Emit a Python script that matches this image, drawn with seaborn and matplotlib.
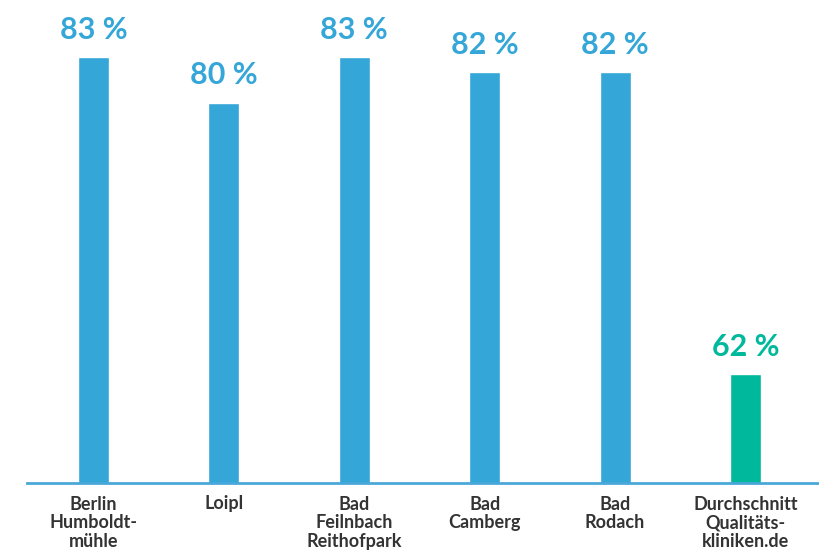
import matplotlib
matplotlib.use("Agg")
import matplotlib.pyplot as plt
import seaborn as sns
import pandas as pd

categories = ["Berlin\nHumboldt-\nmühle", "Loipl", "Bad\nFeilnbach\nReithofpark",
              "Bad\nCamberg", "Bad\nRodach", "Durchschnitt\nQualitäts-\nkliniken.de"]
values = [83, 80, 83, 82, 82, 62]
labels = ["83 %", "80 %", "83 %", "82 %", "82 %", "62 %"]
colors = ["#35A6D8", "#35A6D8", "#35A6D8", "#35A6D8", "#35A6D8", "#00B89C"]

sns.set_theme(style="white")
plt.rcParams['font.family'] = ['Lato', 'DejaVu Sans']

df = pd.DataFrame({"cat": categories, "val": values})

fig = plt.figure(figsize=(8.19, 5.54), dpi=100)
ax = fig.add_axes([27/819, 71/554, 791/819, 483/554])
sns.barplot(data=df, x="cat", y="val", hue="cat", palette=colors, legend=False,
            width=0.238, saturation=1, ax=ax)

ax.set_ylim(54.8, 86.8)
ax.set_xlim(-0.51, 5.556)
for s in ["top", "right", "left"]:
    ax.spines[s].set_visible(False)
ax.spines["bottom"].set_color("#4AA8D8")
ax.spines["bottom"].set_linewidth(2)
ax.set_yticks([])
ax.set_xlabel("")
ax.set_ylabel("")
ax.tick_params(axis="x", length=0, pad=9)
for t in ax.get_xticklabels():
    t.set_fontsize(13)
    t.set_fontweight("bold")
    t.set_color("#333333")
    t.set_linespacing(1.12)

for i, (v, lab, c) in enumerate(zip(values, labels, colors)):
    ax.annotate(lab, (i, v), xytext=(0, 9.5), textcoords="offset points",
                ha="center", va="bottom", fontsize=22, fontweight="bold", color=c)

fig.savefig("out.png", dpi=100)
